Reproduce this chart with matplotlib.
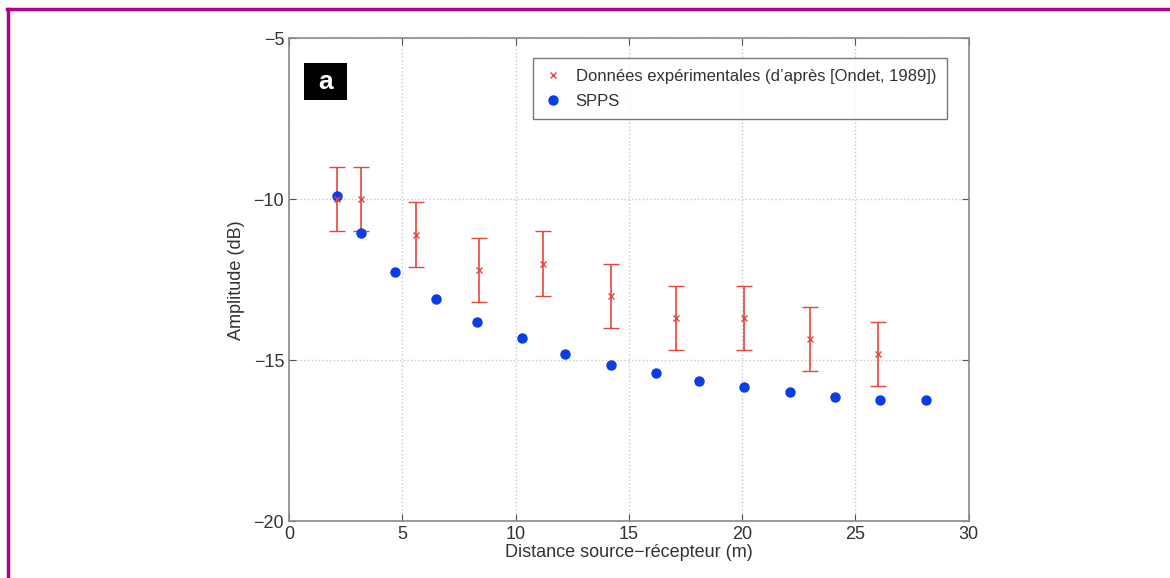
import matplotlib.pyplot as plt
from matplotlib.lines import Line2D
from matplotlib.patches import Rectangle

# experimental data (Ondet 1989)
exp_x = [2.1, 3.2, 5.6, 8.4, 11.2, 14.2, 17.1, 20.1, 23.0, 26.0]
exp_y = [-10.0, -10.0, -11.1, -12.2, -12.0, -13.0, -13.7, -13.7, -14.35, -14.8]
exp_err = [1.0, 1.0, 1.0, 1.0, 1.0, 1.0, 1.0, 1.0, 1.0, 1.0]

# SPPS simulation
spps_x = [2.1, 3.2, 4.7, 6.5, 8.3, 10.3, 12.2, 14.2, 16.2, 18.1, 20.1, 22.1, 24.1, 26.1, 28.1]
spps_y = [-9.9, -11.05, -12.25, -13.1, -13.8, -14.3, -14.8, -15.15, -15.4, -15.65,
          -15.85, -16.0, -16.15, -16.25, -16.25]

red = '#e8453c'
blue = '#0a3de8'

plt.rcParams['font.family'] = ['Liberation Sans', 'DejaVu Sans']

fig = plt.figure(figsize=(11.7, 5.78), dpi=100)
ax = fig.add_axes([0.247, 0.0986, 0.581, 0.835])

ax.errorbar(exp_x, exp_y, yerr=exp_err, fmt='x', color=red, ecolor=red,
            ms=4, mew=1.0, elinewidth=1.2, capsize=6, capthick=1.2)
ax.plot(spps_x, spps_y, 'o', color=blue, ms=6.5)

ax.set_xlim(0, 30)
ax.set_ylim(-20, -5)
ax.set_xticks([0, 5, 10, 15, 20, 25, 30])
ax.set_yticks([-20, -15, -10, -5])
ax.set_yticklabels(['\u221220', '\u221215', '\u221210', '\u22125'])
ax.grid(True, linestyle=':', color='#c8c8c8', linewidth=1)
ax.tick_params(direction='in', length=5, colors='#555555', labelcolor='#333333',
               labelsize=13, top=True, right=True)
for s in ax.spines.values():
    s.set_color('#8a8a8a')
    s.set_linewidth(1.2)

ax.set_xlabel('Distance source\u2212récepteur (m)', fontsize=13, color='#333333', labelpad=1)
ax.set_ylabel('Amplitude (dB)', fontsize=13, color='#333333', labelpad=6)

handles = [Line2D([], [], ls='none', marker='x', color=red, ms=4, mew=1.0),
           Line2D([], [], ls='none', marker='o', color=blue, ms=6.5)]
labels = ['Données expérimentales (d\u2019après [Ondet, 1989])', 'SPPS']
leg = ax.legend(handles, labels, loc='upper right', bbox_to_anchor=(0.968, 0.96),
                fontsize=12, frameon=True, fancybox=False, handlelength=1.1,
                handletextpad=0.8, borderpad=0.65, labelspacing=0.6, borderaxespad=0)
leg.get_frame().set_edgecolor('#555555')
leg.get_frame().set_linewidth(1.0)
for t in leg.get_texts():
    t.set_color('#333333')

# panel label
ax.add_patch(Rectangle((0.022, 0.872), 0.063, 0.076, transform=ax.transAxes,
                       facecolor='black', edgecolor='none', zorder=5))
ax.text(0.0535, 0.91, 'a', transform=ax.transAxes, fontsize=19, fontweight='bold',
        color='white', ha='center', va='center', zorder=6)

# magenta frame (top and left)
fig.add_artist(Line2D([0.006, 1.0], [0.985, 0.985], color='#b0008a', lw=2.5))
fig.add_artist(Line2D([0.007, 0.007], [0.0, 0.985], color='#b0008a', lw=2.5))

fig.savefig('out.png', dpi=100)
